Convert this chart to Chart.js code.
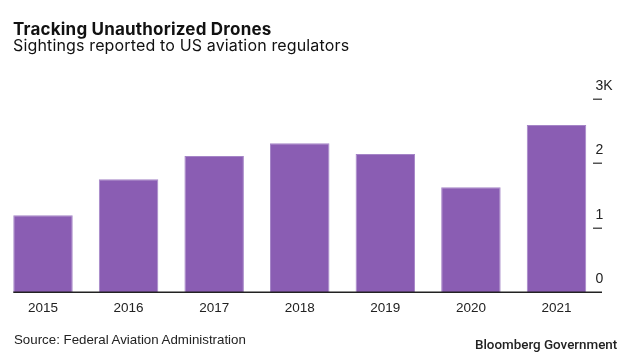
<!DOCTYPE html>
<html>
<head>
<meta charset="utf-8">
<script src="https://cdn.jsdelivr.net/npm/chart.js@4"></script>
<style>
  html, body { margin: 0; padding: 0; background: #fff; }
  #wrap { position: relative; width: 633px; height: 359px; overflow: hidden; font-family: "Liberation Sans", Arial, sans-serif; }
  #c { position: absolute; left: 0; top: 0; }
  .t { position: absolute; white-space: nowrap; color: #111; }
  #title { left: 13px; top: 21px; font-size: 17px; font-weight: bold; line-height: 16px; font-family: Inter, sans-serif; letter-spacing: 0.2px; }
  #sub { left: 13px; top: 37px; font-size: 16px; line-height: 16px; font-family: Inter, sans-serif; letter-spacing: 0.15px; }
  #src { left: 14px; top: 333px; font-size: 13.3px; line-height: 14px; color: #222; }
  #brand { left: 475px; top: 338px; font-size: 13.4px; line-height: 14px; font-family: Roboto, sans-serif; font-weight: 500; color: #222; }
</style>
</head>
<body>
<div id="wrap">
  <canvas id="c" width="633" height="359"></canvas>
  <div class="t" id="title">Tracking Unauthorized Drones</div>
  <div class="t" id="sub">Sightings reported to US aviation regulators</div>
  <div class="t" id="src">Source: Federal Aviation Administration</div>
  <div class="t" id="brand">Bloomberg Government</div>
</div>
<script>
const categories = ["2015", "2016", "2017", "2018", "2019", "2020", "2021"];
const sightings = [1193, 1753, 2115, 2313, 2146, 1628, 2597];
const yTicks = [0, 1000, 2000, 3000];
const yTickLabels = ["0", "1", "2", "3K"];

const tickMarks = {
  id: 'tickMarks',
  afterDatasetsDraw(chart) {
    const ctx = chart.ctx;
    const y = chart.scales.y;
    const meta = chart.getDatasetMeta(0);
    const firstBar = meta.data[0];
    const left = firstBar.x - firstBar.width / 2;
    ctx.save();
    ctx.strokeStyle = '#555';
    ctx.lineWidth = 1.5;
    yTicks.forEach(v => {
      if (v === 0) return;
      const py = Math.round(y.getPixelForValue(v)) + 0.25;
      ctx.beginPath();
      ctx.moveTo(593, py);
      ctx.lineTo(602, py);
      ctx.stroke();
    });
    ctx.strokeStyle = '#222';
    const p0 = Math.round(y.getPixelForValue(0)) + 0.25;
    ctx.beginPath();
    ctx.moveTo(left, p0);
    ctx.lineTo(602, p0);
    ctx.stroke();
    ctx.restore();
  }
};

new Chart(document.getElementById('c'), {
  type: 'bar',
  data: {
    labels: categories,
    datasets: [{
      data: sightings,
      backgroundColor: '#8a5db3',
      borderColor: '#a585c7',
      borderWidth: 1,
      barPercentage: 0.695,
      categoryPercentage: 1,
      clip: false
    }]
  },
  options: {
    responsive: false,
    animation: false,
    layout: { padding: { top: 99, left: 43, right: 0, bottom: 0 } },
    plugins: { legend: { display: false }, tooltip: { enabled: false } },
    scales: {
      x: {
        offset: false,
        grid: { display: false },
        border: { display: false },
        ticks: { color: '#222', font: { family: 'Liberation Sans', size: 13.5 }, padding: 0, maxRotation: 0 },
        afterFit(s) { s.height = 67; }
      },
      y: {
        position: 'right',
        min: 0, max: 3000,
        grid: { display: false },
        border: { display: false },
        afterBuildTicks(s) { s.ticks = yTicks.map(v => ({ value: v })); },
        ticks: {
          color: '#222',
          font: { family: 'Liberation Sans', size: 14 },
          padding: 31,
          labelOffset: -13,
          callback: (v) => yTickLabels[yTicks.indexOf(v)]
        },
        afterFit(s) { s.width = 76.5; }
      }
    }
  },
  plugins: [tickMarks]
});
</script>
</body>
</html>
